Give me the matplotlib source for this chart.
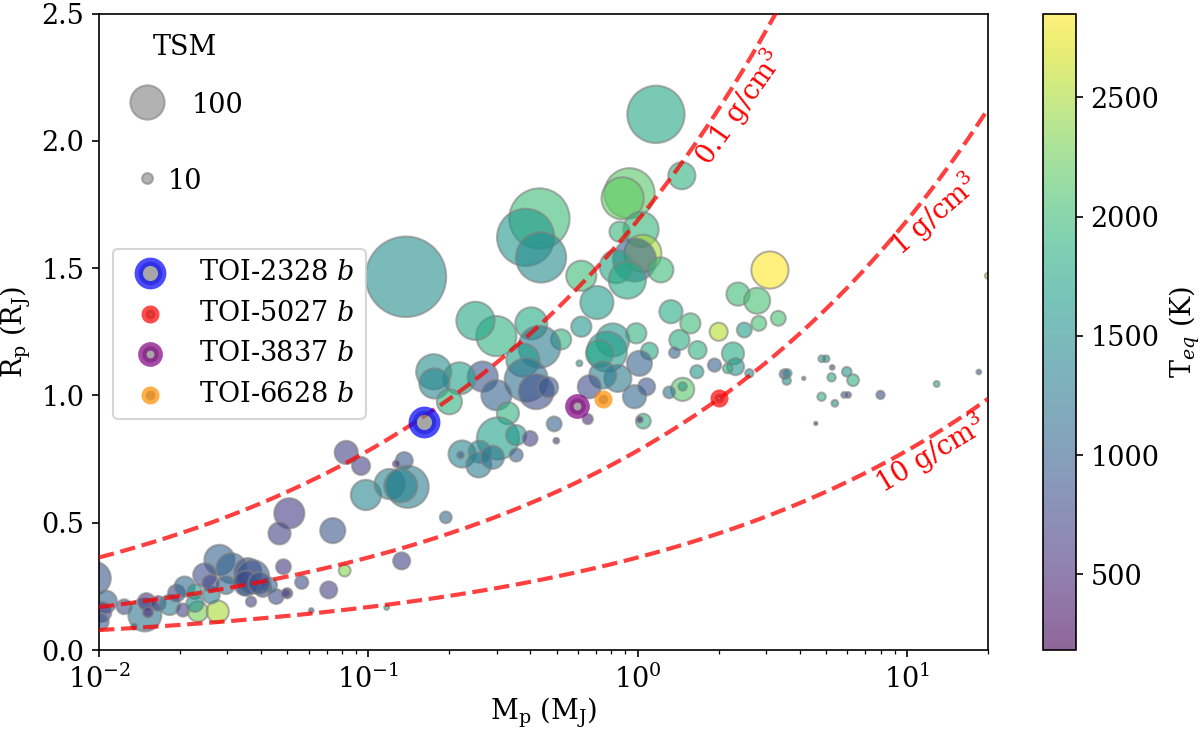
import numpy as np
import matplotlib
matplotlib.use('Agg')
import matplotlib.pyplot as plt

plt.rcParams['font.family'] = 'serif'
plt.rcParams['mathtext.fontset'] = 'dejavuserif'
plt.rcParams['font.size'] = 13

# planet sample: mass (MJ), radius (RJ), TSM, Teq (K)
mass = [0.138, 1.17, 1.46, 0.933, 0.88, 0.432, 0.384, 0.438, 1.03, 0.857,
        1.046, 0.974, 0.833, 0.916, 1.22, 0.618, 0.706, 3.10, 2.36, 2.78,
        3.33, 2.82, 2.49, 2.0, 1.33, 1.57, 1.43, 1.67, 1.37, 2.26,
        1.93, 2.31, 2.16, 1.66, 2.6, 1.47, 1.47, 1.31, 1.05, 1.02,
        0.653, 0.49, 0.499, 0.989, 1.107, 0.809, 0.769, 0.722, 1.016, 0.845,
        0.743, 0.662, 0.974, 1.08, 0.608, 0.618, 0.52, 0.403, 0.432, 0.375,
        0.386, 0.42, 0.465, 0.299, 0.25, 0.266, 0.299, 0.218, 0.175, 0.176,
        0.2, 0.33, 0.303, 0.354, 0.399, 0.223, 0.22, 0.259, 0.257, 0.289,
        0.354, 0.0828, 0.094, 0.136, 0.127, 0.098, 0.12, 0.14, 0.132, 0.194,
        0.0509, 0.0468, 0.0738, 0.133, 0.0817, 0.0484, 0.0566, 0.0713, 0.0614, 0.117,
        0.05, 0.0096, 0.0106, 0.0102, 0.0101, 0.0124, 0.0148, 0.015, 0.0152, 0.0166,
        0.0183, 0.0194, 0.0208, 0.0205, 0.0227, 0.0233, 0.0227, 0.0276, 0.028, 0.0247,
        0.031, 0.0261, 0.0296, 0.0337, 0.0347, 0.0357, 0.0367, 0.0406, 0.043, 0.0455,
        0.0495, 0.0135, 0.0372, 0.0352, 0.0394, 0.026, 4.83, 5.01, 5.28, 3.51,
        3.6, 3.58, 4.14, 5.25, 5.98, 6.31, 4.82, 5.40, 5.85, 6.05,
        7.98, 4.59, 12.9, 18.5, 20.0]
radius = [1.466, 2.104, 1.863, 1.794, 1.774, 1.695, 1.621, 1.542, 1.652, 1.643,
          1.558, 1.532, 1.506, 1.453, 1.493, 1.470, 1.365, 1.4925, 1.398, 1.372,
          1.303, 1.283, 1.257, 1.250, 1.329, 1.283, 1.218, 1.178, 1.168, 1.165,
          1.119, 1.113, 1.106, 1.093, 1.087, 1.024, 1.035, 1.012, 0.899, 0.905,
          0.907, 0.888, 0.822, 1.244, 1.174, 1.218, 1.172, 1.165, 1.126, 1.067,
          1.080, 1.034, 0.995, 1.034, 1.126, 1.270, 1.220, 1.283, 1.191, 1.139,
          1.061, 1.015, 1.032, 1.233, 1.293, 1.074, 1.001, 1.067, 1.093, 1.047,
          0.975, 0.930, 0.831, 0.844, 0.831, 0.770, 0.766, 0.779, 0.727, 0.757,
          0.766, 0.776, 0.723, 0.744, 0.731, 0.609, 0.652, 0.641, 0.645, 0.521,
          0.537, 0.458, 0.469, 0.350, 0.312, 0.327, 0.266, 0.236, 0.155, 0.167,
          0.223, 0.282, 0.190, 0.150, 0.111, 0.170, 0.138, 0.190, 0.148, 0.183,
          0.177, 0.223, 0.249, 0.157, 0.229, 0.151, 0.183, 0.151, 0.354, 0.295,
          0.321, 0.216, 0.255, 0.282, 0.242, 0.308, 0.190, 0.242, 0.255, 0.210,
          0.223, 0.092, 0.288, 0.262, 0.262, 0.262, 1.144, 1.144, 1.110, 1.084,
          1.087, 1.058, 1.067, 1.071, 1.093, 1.060, 0.995, 0.969, 1.002, 1.002,
          1.002, 0.890, 1.045, 1.092, 1.47]
tsm = [553, 281, 63, 216, 152, 311, 280, 216, 106, 35,
       118, 160, 94, 118, 54, 78, 94, 118, 46, 58,
       19, 19, 19, 28, 46, 35, 35, 28, 10, 42,
       15, 25, 8, 15, 6, 46, 6, 12, 19, 3,
       9, 19, 3, 35, 25, 94, 138, 63, 54, 63,
       63, 46, 46, 25, 3, 35, 35, 88, 152, 94,
       160, 106, 35, 138, 125, 78, 78, 88, 106, 78,
       54, 42, 152, 35, 19, 63, 4, 42, 54, 46,
       15, 46, 28, 25, 4, 78, 78, 152, 94, 12,
       78, 42, 54, 25, 12, 19, 15, 25, 2, 2,
       9, 94, 42, 35, 25, 19, 94, 25, 9, 19,
       35, 25, 35, 15, 19, 35, 25, 42, 78, 46,
       78, 25, 28, 15, 15, 63, 9, 25, 19, 19,
       6, 3, 94, 54, 42, 25, 4, 4, 2, 8,
       6, 6, 1, 6, 8, 12, 6, 4, 3, 3,
       6, 1, 3, 2, 3]
teq = [1500, 1750, 1900, 2150, 2200, 2000, 1600, 1450, 1950, 1950,
       2500, 1000, 1750, 1800, 2000, 2000, 1650, 2852, 2000, 2050,
       2050, 2050, 1650, 2550, 1800, 2000, 1850, 1900, 1000, 1800,
       1000, 1600, 1900, 1600, 1500, 2150, 1700, 1200, 1900, 400,
       500, 1000, 500, 1900, 1800, 1600, 1650, 1750, 1000, 1250,
       1300, 800, 1100, 900, 1600, 1600, 1900, 1800, 1250, 1650,
       1150, 800, 900, 1900, 1750, 900, 1000, 1700, 1500, 1400,
       1900, 1900, 1700, 1600, 700, 1400, 1000, 1400, 1300, 1200,
       1000, 700, 700, 900, 500, 1400, 1400, 1300, 1350, 1100,
       650, 700, 900, 700, 2350, 600, 800, 700, 800, 1800,
       600, 900, 1000, 700, 900, 800, 1200, 600, 500, 700,
       1300, 700, 1100, 700, 1600, 2300, 1500, 2500, 1000, 800,
       1000, 1300, 1100, 500, 1600, 800, 700, 900, 1000, 800,
       600, 1000, 900, 800, 850, 750, 1700, 1500, 700, 900,
       1400, 1500, 900, 1800, 1600, 1900, 1900, 1500, 1000, 800,
       800, 183, 1800, 900, 2500]

# highlighted targets
toi_names = ['TOI-2328 $b$', 'TOI-5027 $b$', 'TOI-3837 $b$', 'TOI-6628 $b$']
toi_mass = [0.161, 2.0, 0.597, 0.745]
toi_radius = [0.895, 0.988, 0.960, 0.985]
toi_tsm = [47, 8, 23, 8]
toi_colors = ['blue', 'red', 'purple', 'darkorange']

densities = [0.1, 1, 10]
density_labels = ['0.1 g/cm$^3$', '1 g/cm$^3$', '10 g/cm$^3$']
label_pos = [(2.39, 2.13, 55), (12.7, 1.71, 41), (12.3, 0.77, 31)]

tsm_legend = [100, 10]
SIZE = 2.7  # marker area per unit TSM

fig = plt.figure(figsize=(8, 4.88), dpi=150)
ax = fig.add_axes([0.0825, 0.112, 0.7408, 0.8695])
cax = fig.add_axes([0.869, 0.112, 0.0275, 0.8695])

# constant density curves
mgrid = np.logspace(-2, np.log10(20), 300)
for rho, lab, (lx, ly, rot) in zip(densities, density_labels, label_pos):
    ax.plot(mgrid, (0.48 * mgrid / rho) ** (1 / 3), ls='--', color='red',
            lw=2, alpha=0.75, zorder=3)
    ax.text(lx, ly, lab, color='red', rotation=rot, ha='center', va='center',
            rotation_mode='anchor', zorder=4)

sc = ax.scatter(mass, radius, s=np.array(tsm) * SIZE, c=teq, cmap='viridis',
                alpha=0.6, edgecolors='gray', linewidths=1, zorder=2)

handles = []
for m, r, t, col, name in zip(toi_mass, toi_radius, toi_tsm, toi_colors, toi_names):
    h = ax.scatter([m], [r], s=t * SIZE, c='gray', edgecolors=col, linewidths=4,
                   alpha=0.7, zorder=5, label=name)
    handles.append(h)

ax.set_xscale('log')
ax.set_xlim(1e-2, 20)
ax.set_ylim(0, 2.5)
ax.set_xlabel(r'M$_{\rm p}$ (M$_{\rm J}$)', labelpad=1)
ax.set_ylabel(r'R$_{\rm p}$ (R$_{\rm J}$)')

ax.legend(handles=handles, loc='upper left', bbox_to_anchor=(0.0, 0.652))

# TSM size key
ax.text(0.0967, 0.947, 'TSM', transform=ax.transAxes, ha='center', va='center')
key_y = [0.861, 0.7416]
key_tx = [0.1046, 0.0776]
for val, yk, tx in zip(tsm_legend, key_y, key_tx):
    ax.scatter([0.054], [yk], s=val * SIZE, c='gray', alpha=0.6, edgecolors='gray',
               linewidths=1, transform=ax.transAxes, clip_on=False)
    ax.text(tx, yk, str(val), transform=ax.transAxes, ha='left', va='center_baseline')

cb = fig.colorbar(sc, cax=cax)
cb.set_label(r'T$_{eq}$ (K)')

fig.savefig('out.png', dpi=150)
